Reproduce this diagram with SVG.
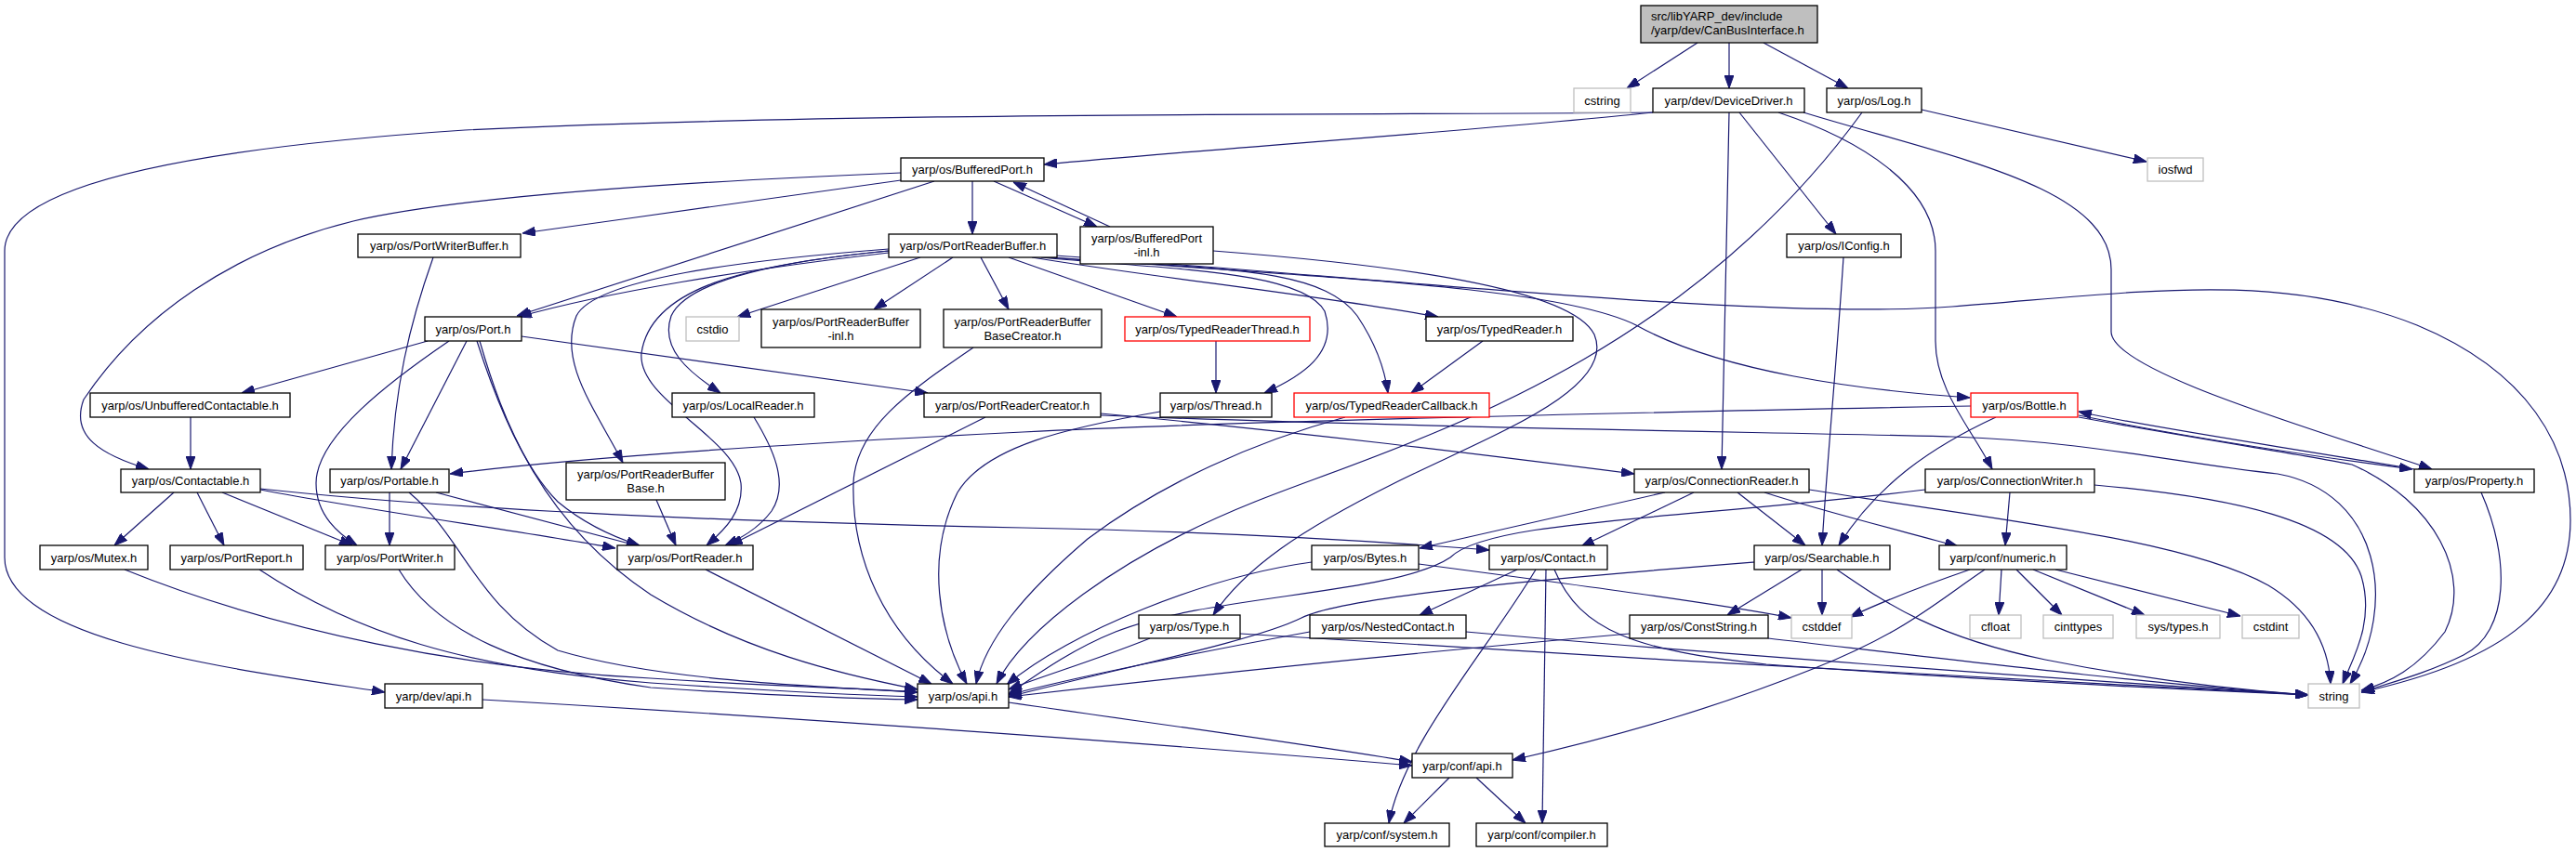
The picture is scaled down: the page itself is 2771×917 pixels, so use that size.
<svg xmlns="http://www.w3.org/2000/svg" width="2771" height="917" viewBox="0 0 2771 917">
<style>
rect{fill:#fff;stroke:#000;stroke-width:1.3}
.g rect{stroke:#bfbfbf}
.r rect{stroke:#ff0000}
.root rect{fill:#bfbfbf}
text{font-family:"Liberation Sans",Arial,Helvetica,sans-serif;font-size:13px;text-anchor:middle;fill:#000}
#edges path{fill:none;stroke:#191970;stroke-width:1.2;marker-end:url(#a)}
</style>
<defs>
<marker id="a" markerUnits="userSpaceOnUse" markerWidth="14" markerHeight="10" refX="14" refY="5" orient="auto" viewBox="0 0 14 10"><path d="M0,0 L14,5 L0,10 z" fill="#191970" stroke="#191970" stroke-width="1"/></marker>
</defs>
<rect x="0" y="0" width="2771" height="917" style="fill:#fff;stroke:none"/>
<g id="edges">
<path d="M1826,46 L1750,95"/>
<path d="M1860,46 L1860,95"/>
<path d="M1897,46 L1988,95"/>
<path d="M2067,118 L2309,174"/>
<path d="M1778,121 C1600,140 1300,160 1123,177"/>
<path d="M1778,121 C1500,124 900,120 500,140 C200,160 5,200 5,270 L5,600 C5,690 250,720 414,745"/>
<path d="M1860,121 C1858,250 1853,400 1852,505"/>
<path d="M1871,121 L1975,252"/>
<path d="M1913,121 C2000,150 2082,200 2082,270 L2082,367 C2082,420 2120,460 2143,505"/>
<path d="M1940,121 C2100,170 2271,200 2271,290 L2271,357 C2271,400 2500,465 2616,505"/>
<path d="M2003,121 C1800,400 1500,480 1350,540 C1200,600 1100,680 1072,736"/>
<path d="M1046,195 L1046,252"/>
<path d="M1069,195 L1180,244"/>
<path d="M1194,244 L1090,196"/>
<path d="M969,194 C850,210 700,232 562,251"/>
<path d="M969,186 C750,195 500,210 380,238 C250,270 150,340 90,430 C75,470 110,490 160,505"/>
<path d="M1005,195 L556,340"/>
<path d="M1305,270 C1500,285 1690,310 1715,360 C1740,420 1600,470 1500,520 C1400,570 1340,610 1305,662"/>
<path d="M956,272 C800,290 650,315 558,341"/>
<path d="M990,277 L793,341"/>
<path d="M1025,277 L940,333"/>
<path d="M1055,277 L1085,333"/>
<path d="M1085,277 L1266,341"/>
<path d="M1110,277 C1250,300 1400,315 1547,341"/>
<path d="M1120,277 C1250,290 1400,290 1425,335 C1440,380 1400,405 1360,423"/>
<path d="M1125,277 C1300,290 1420,285 1460,340 C1480,370 1490,400 1493,423"/>
<path d="M1130,277 C1450,300 1680,310 1760,350 C1850,400 2000,420 2119,428"/>
<path d="M1135,275 C1500,300 1900,345 2100,330 C2300,315 2450,290 2600,350 C2720,400 2765,480 2765,560 C2765,650 2700,710 2540,745"/>
<path d="M956,270 C850,280 740,300 722,340 C710,375 740,400 775,423"/>
<path d="M956,270 C800,285 700,310 690,380 C685,430 790,470 797,520 C800,550 780,570 760,587"/>
<path d="M956,268 C800,280 640,300 620,340 C600,390 640,440 670,498"/>
<path d="M460,367 L260,423"/>
<path d="M483,367 C420,410 340,470 340,520 C340,555 365,575 384,587"/>
<path d="M502,367 L431,505"/>
<path d="M513,367 C530,420 560,500 600,540 C630,565 660,578 688,587"/>
<path d="M516,367 C540,450 580,560 700,640 C800,700 900,725 987,742"/>
<path d="M561,362 L998,423"/>
<path d="M466,277 C440,350 424,420 421,505"/>
<path d="M205,449 L205,505"/>
<path d="M187,530 L123,587"/>
<path d="M212,530 L241,587"/>
<path d="M239,530 L379,587"/>
<path d="M280,527 C400,550 550,570 662,590"/>
<path d="M280,526 C500,550 800,562 1100,568 C1300,572 1450,580 1602,592"/>
<path d="M419,530 L419,587"/>
<path d="M469,530 L688,588"/>
<path d="M440,530 C500,580 510,650 600,700 C700,730 850,738 987,745"/>
<path d="M706,538 L727,587"/>
<path d="M811,449 C830,480 850,520 830,550 C815,570 795,580 780,587"/>
<path d="M1060,449 L785,587"/>
<path d="M1184,445 C1400,465 1600,490 1758,510"/>
<path d="M1184,447 C1500,460 1900,465 2100,470 C2250,475 2350,500 2450,510 C2560,530 2580,650 2528,736"/>
<path d="M1047,374 C980,420 920,460 918,520 C916,600 950,680 1025,736"/>
<path d="M1308,367 L1308,423"/>
<path d="M1595,367 L1518,423"/>
<path d="M1248,443 C1150,460 1060,480 1030,530 C995,600 1010,680 1040,736"/>
<path d="M1447,449 C1350,475 1250,520 1170,580 C1100,640 1060,690 1050,736"/>
<path d="M1983,277 C1975,400 1965,500 1960,587"/>
<path d="M1791,530 L1527,590"/>
<path d="M1822,530 L1701,588"/>
<path d="M1869,530 L1942,587"/>
<path d="M1898,530 C1960,550 2040,570 2106,588"/>
<path d="M1946,527 C2150,560 2350,580 2440,630 C2490,660 2505,700 2507,736"/>
<path d="M2162,530 L2157,587"/>
<path d="M2253,522 C2400,535 2520,560 2540,620 C2555,670 2530,710 2520,736"/>
<path d="M2071,527 C1800,560 1600,560 1560,600 C1500,640 1300,640 1200,680 C1150,700 1110,730 1085,747"/>
<path d="M1411,605 C1300,620 1150,680 1083,737"/>
<path d="M1526,607 C1700,630 1850,650 1927,665"/>
<path d="M1632,613 L1527,662"/>
<path d="M1652,613 C1600,700 1510,800 1494,886"/>
<path d="M1663,613 L1659,886"/>
<path d="M1672,613 C1700,680 1760,700 1900,715 C2100,730 2300,740 2483,748"/>
<path d="M1938,613 L1858,662"/>
<path d="M1960,613 L1960,662"/>
<path d="M1976,613 C2030,650 2080,685 2200,710 C2300,730 2400,742 2483,748"/>
<path d="M1887,605 C1700,620 1450,640 1400,665 C1350,690 1200,720 1085,750"/>
<path d="M2119,613 C2070,630 2030,645 1990,664"/>
<path d="M2135,613 C2080,650 2050,680 1950,720 C1850,760 1750,790 1627,818"/>
<path d="M2153,613 L2150,662"/>
<path d="M2169,613 L2218,662"/>
<path d="M2187,613 L2307,662"/>
<path d="M2211,613 L2410,663"/>
<path d="M1409,680 C1300,700 1150,730 1085,748"/>
<path d="M1577,680 C1800,700 2200,730 2483,748"/>
<path d="M1237,687 C1180,710 1120,728 1085,742"/>
<path d="M1334,682 C1700,705 2200,735 2483,748"/>
<path d="M1753,682 C1550,700 1300,725 1085,750"/>
<path d="M1902,687 C2100,710 2300,735 2483,748"/>
<path d="M1085,756 C1250,780 1400,800 1519,820"/>
<path d="M519,753 C900,775 1300,805 1519,824"/>
<path d="M1559,837 L1510,886"/>
<path d="M1588,837 L1641,886"/>
<path d="M134,613 C300,680 500,720 700,730 C850,740 920,740 987,745"/>
<path d="M279,613 C380,680 500,720 700,735 C850,745 920,748 987,750"/>
<path d="M429,613 C470,680 560,720 700,740 C850,750 920,752 987,753"/>
<path d="M759,613 L1002,736"/>
<path d="M2597,505 C2450,480 2300,458 2236,443"/>
<path d="M2236,447 C2350,470 2480,490 2595,505"/>
<path d="M2236,449 C2350,470 2480,490 2530,500 C2620,540 2660,620 2630,680 C2600,720 2570,735 2540,743"/>
<path d="M2120,437 C1700,445 1300,455 1100,465 C800,480 600,495 484,510"/>
<path d="M2147,449 C2080,480 2020,520 1978,587"/>
<path d="M2669,530 C2700,600 2700,680 2650,705 C2610,725 2570,735 2540,745"/>
</g>
<g id="n_root" class="root"><rect x="1765" y="6" width="190" height="40"/><text x="1776" y="22" style="text-anchor:start">src/libYARP_dev/include</text><text x="1776" y="37" style="text-anchor:start">/yarp/dev/CanBusInterface.h</text></g>
<g id="n_cstring" class="g"><rect x="1693" y="95" width="61" height="26"/><text x="1723.5" y="112.5">cstring</text></g>
<g id="n_DeviceDriver"><rect x="1778" y="95" width="163" height="26"/><text x="1859.5" y="112.5">yarp/dev/DeviceDriver.h</text></g>
<g id="n_Log"><rect x="1965" y="95" width="102" height="26"/><text x="2016" y="112.5">yarp/os/Log.h</text></g>
<g id="n_iosfwd" class="g"><rect x="2310" y="170" width="60" height="25"/><text x="2340" y="187">iosfwd</text></g>
<g id="n_BufferedPort"><rect x="969" y="170" width="154" height="25"/><text x="1046" y="187">yarp/os/BufferedPort.h</text></g>
<g id="n_PortWriterBuffer"><rect x="385" y="252" width="175" height="25"/><text x="472.5" y="269">yarp/os/PortWriterBuffer.h</text></g>
<g id="n_PortReaderBuffer"><rect x="956" y="252" width="181" height="25"/><text x="1046.5" y="269">yarp/os/PortReaderBuffer.h</text></g>
<g id="n_BufferedPortInl"><rect x="1162" y="244" width="143" height="40"/><text x="1233.5" y="260.5">yarp/os/BufferedPort</text><text x="1233.5" y="275.5">-inl.h</text></g>
<g id="n_IConfig"><rect x="1922" y="252" width="123" height="25"/><text x="1983.5" y="269">yarp/os/IConfig.h</text></g>
<g id="n_Port"><rect x="457" y="341" width="104" height="26"/><text x="509" y="358.5">yarp/os/Port.h</text></g>
<g id="n_cstdio" class="g"><rect x="738" y="341" width="57" height="26"/><text x="766.5" y="358.5">cstdio</text></g>
<g id="n_PRBInl"><rect x="819" y="333" width="171" height="41"/><text x="904.5" y="350.5">yarp/os/PortReaderBuffer</text><text x="904.5" y="365.5">-inl.h</text></g>
<g id="n_PRBBaseCreator"><rect x="1015" y="333" width="170" height="41"/><text x="1100" y="350.5">yarp/os/PortReaderBuffer</text><text x="1100" y="365.5">BaseCreator.h</text></g>
<g id="n_TypedReaderThread" class="r"><rect x="1210" y="341" width="199" height="26"/><text x="1309.5" y="358.5">yarp/os/TypedReaderThread.h</text></g>
<g id="n_TypedReader"><rect x="1534" y="341" width="158" height="26"/><text x="1613" y="358.5">yarp/os/TypedReader.h</text></g>
<g id="n_UnbufferedContactable"><rect x="97" y="423" width="215" height="26"/><text x="204.5" y="440.5">yarp/os/UnbufferedContactable.h</text></g>
<g id="n_LocalReader"><rect x="723" y="423" width="153" height="26"/><text x="799.5" y="440.5">yarp/os/LocalReader.h</text></g>
<g id="n_PortReaderCreator"><rect x="994" y="423" width="190" height="26"/><text x="1089" y="440.5">yarp/os/PortReaderCreator.h</text></g>
<g id="n_Thread"><rect x="1248" y="423" width="120" height="26"/><text x="1308" y="440.5">yarp/os/Thread.h</text></g>
<g id="n_TypedReaderCallback" class="r"><rect x="1392" y="423" width="210" height="26"/><text x="1497" y="440.5">yarp/os/TypedReaderCallback.h</text></g>
<g id="n_Bottle" class="r"><rect x="2120" y="423" width="115" height="26"/><text x="2177.5" y="440.5">yarp/os/Bottle.h</text></g>
<g id="n_Contactable"><rect x="130" y="505" width="150" height="25"/><text x="205" y="522">yarp/os/Contactable.h</text></g>
<g id="n_Portable"><rect x="355" y="505" width="128" height="25"/><text x="419" y="522">yarp/os/Portable.h</text></g>
<g id="n_PRBBase"><rect x="609" y="498" width="171" height="40"/><text x="694.5" y="515">yarp/os/PortReaderBuffer</text><text x="694.5" y="530">Base.h</text></g>
<g id="n_ConnectionReader"><rect x="1758" y="505" width="188" height="25"/><text x="1852" y="522">yarp/os/ConnectionReader.h</text></g>
<g id="n_ConnectionWriter"><rect x="2071" y="505" width="182" height="25"/><text x="2162" y="522">yarp/os/ConnectionWriter.h</text></g>
<g id="n_Property"><rect x="2597" y="505" width="129" height="25"/><text x="2661.5" y="522">yarp/os/Property.h</text></g>
<g id="n_Mutex"><rect x="43" y="587" width="116" height="26"/><text x="101" y="604.5">yarp/os/Mutex.h</text></g>
<g id="n_PortReport"><rect x="183" y="587" width="143" height="26"/><text x="254.5" y="604.5">yarp/os/PortReport.h</text></g>
<g id="n_PortWriter"><rect x="350" y="587" width="139" height="26"/><text x="419.5" y="604.5">yarp/os/PortWriter.h</text></g>
<g id="n_PortReader"><rect x="664" y="587" width="146" height="26"/><text x="737" y="604.5">yarp/os/PortReader.h</text></g>
<g id="n_Bytes"><rect x="1411" y="587" width="115" height="26"/><text x="1468.5" y="604.5">yarp/os/Bytes.h</text></g>
<g id="n_Contact"><rect x="1602" y="587" width="127" height="26"/><text x="1665.5" y="604.5">yarp/os/Contact.h</text></g>
<g id="n_Searchable"><rect x="1887" y="587" width="146" height="26"/><text x="1960" y="604.5">yarp/os/Searchable.h</text></g>
<g id="n_numeric"><rect x="2086" y="587" width="137" height="26"/><text x="2154.5" y="604.5">yarp/conf/numeric.h</text></g>
<g id="n_NestedContact"><rect x="1409" y="662" width="168" height="25"/><text x="1493" y="679">yarp/os/NestedContact.h</text></g>
<g id="n_Type"><rect x="1225" y="662" width="109" height="25"/><text x="1279.5" y="679">yarp/os/Type.h</text></g>
<g id="n_ConstString"><rect x="1753" y="662" width="149" height="25"/><text x="1827.5" y="679">yarp/os/ConstString.h</text></g>
<g id="n_cstddef" class="g"><rect x="1927" y="662" width="65" height="25"/><text x="1959.5" y="679">cstddef</text></g>
<g id="n_cfloat" class="g"><rect x="2119" y="662" width="55" height="25"/><text x="2146.5" y="679">cfloat</text></g>
<g id="n_cinttypes" class="g"><rect x="2198" y="662" width="75" height="25"/><text x="2235.5" y="679">cinttypes</text></g>
<g id="n_systypes" class="g"><rect x="2298" y="662" width="90" height="25"/><text x="2343" y="679">sys/types.h</text></g>
<g id="n_cstdint" class="g"><rect x="2412" y="662" width="61" height="25"/><text x="2442.5" y="679">cstdint</text></g>
<g id="n_devapi"><rect x="414" y="736" width="105" height="26"/><text x="466.5" y="753.5">yarp/dev/api.h</text></g>
<g id="n_osapi"><rect x="987" y="736" width="98" height="26"/><text x="1036" y="753.5">yarp/os/api.h</text></g>
<g id="n_string" class="g"><rect x="2483" y="736" width="55" height="26"/><text x="2510.5" y="753.5">string</text></g>
<g id="n_confapi"><rect x="1519" y="811" width="108" height="26"/><text x="1573" y="828.5">yarp/conf/api.h</text></g>
<g id="n_system"><rect x="1425" y="886" width="134" height="25"/><text x="1492" y="903">yarp/conf/system.h</text></g>
<g id="n_compiler"><rect x="1588" y="886" width="141" height="25"/><text x="1658.5" y="903">yarp/conf/compiler.h</text></g>
</svg>
